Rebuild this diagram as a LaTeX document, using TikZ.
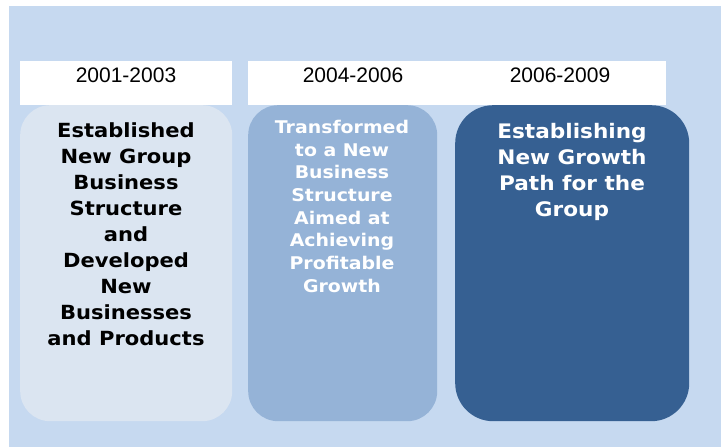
\documentclass[tikz,border=0pt]{standalone}
\usepackage{fontspec}
\setmainfont{Liberation Sans}
\newfontfamily\phasefont[FakeStretch=1.08]{DejaVu Sans}
\usetikzlibrary{positioning}
\definecolor{paneblue}{HTML}{C6D9F0}
\definecolor{paleblue}{HTML}{DBE5F1}
\definecolor{midblue}{HTML}{95B3D7}
\definecolor{darkblue}{HTML}{366092}
\begin{document}
\begin{tikzpicture}[x=1pt,y=-1pt,
    yearbar/.style={fill=white,inner sep=0pt,anchor=north west,minimum height=44pt},
    year/.style={font=\fontsize{21}{24}\selectfont,anchor=base,inner sep=0pt},
    phase/.style={inner sep=0pt,anchor=north west,minimum height=316pt},
    phasetext/.style={font=\phasefont\bfseries\fontsize{19.5}{26}\selectfont,align=center,anchor=north,inner sep=0pt}]
    \useasboundingbox (0,0) rectangle (721,447);
    \fill[paneblue] (9,6) rectangle (721,447);
    % years
    \node[yearbar,minimum width=212pt] (bar1) at (20,61) {};
    \node[yearbar,minimum width=418pt] (bar2) at (248,61) {};
    \node[year] (y1) at (126,82) {2001-2003};
    \node[year] (y2) at (353,82) {2004-2006};
    \node[year] (y3) at (560,82) {2006-2009};
    % phases
    \node[phase,fill=paleblue,rounded corners=30pt,minimum width=212pt] (p1) at (20,105) {};
    \node[phase,fill=midblue,rounded corners=30pt,minimum width=189pt] (p2) at (248,105) {};
    \node[phase,fill=darkblue,rounded corners=38pt,minimum width=234pt] (p3) at (455,105) {};
    \node[phasetext,black] (t1) at (126,122) {Established\\New Group\\Business\\Structure\\and\\Developed\\New\\Businesses\\and Products};
    \node[phasetext,white,font=\phasefont\bfseries\fontsize{17.5}{22.7}\selectfont] (t2) at (342,120) {Transformed\\to a New\\Business\\Structure\\Aimed at\\Achieving\\Profitable\\Growth};
    \node[phasetext,white,font=\phasefont\bfseries\fontsize{20}{26}\selectfont] (t3) at (572,123) {Establishing\\New Growth\\Path for the\\Group};
\end{tikzpicture}
\end{document}
